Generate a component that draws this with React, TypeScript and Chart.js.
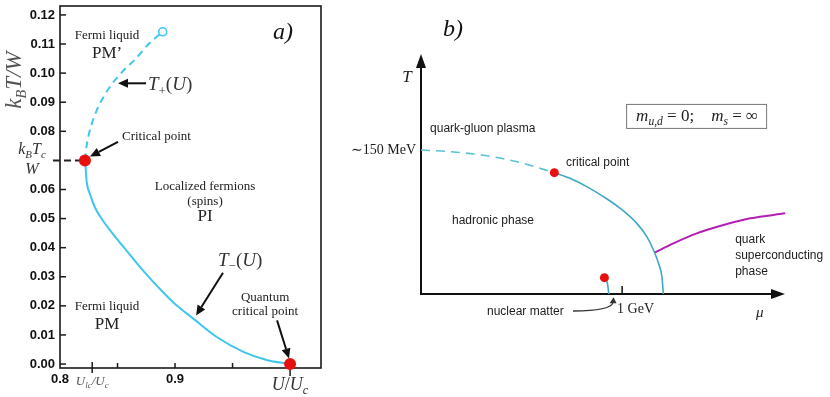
import React, { useEffect, useRef } from 'react';
import { Chart, registerables } from 'chart.js';

Chart.register(...registerables);

// ---------------- Panel a data ----------------
const yTicksA = [0, 0.01, 0.02, 0.03, 0.04, 0.05, 0.06, 0.07, 0.08, 0.09, 0.1, 0.11, 0.12];
const yTickLabelsA = ['0.00', '0.01', '0.02', '0.03', '0.04', '0.05', '0.06', '', '0.08', '0.09', '0.10', '0.11', '0.12'];
const xTicksA = [0.8, 0.85, 0.9, 0.95, 1.0];
const xTickLabelsA = ['0.8', '', '0.9', '', ''];

const tMinusU = [0.8217, 0.8221, 0.8232, 0.8261, 0.8304, 0.8377, 0.8463, 0.858, 0.8724, 0.8898, 0.9015, 0.9159, 0.9363, 0.9594, 0.9797, 1.0];
const tMinusT = [0.07, 0.0685, 0.0627, 0.0584, 0.0538, 0.0491, 0.0446, 0.0389, 0.032, 0.0246, 0.0201, 0.0156, 0.0093, 0.0042, 0.0014, 0.0];

const tPlusU = [0.8217, 0.8226, 0.8246, 0.8276, 0.8319, 0.8377, 0.845, 0.855, 0.8667, 0.8768, 0.8893];
const tPlusT = [0.07, 0.0735, 0.0781, 0.0826, 0.0872, 0.0917, 0.0962, 0.1008, 0.1053, 0.1099, 0.1142];

const criticalA = { x: 0.8217, y: 0.07 };
const quantumCritical = { x: 1.0, y: 0.0 };
const tPlusEnd = { x: 0.8893, y: 0.1142 };
const uLc = 0.828;
const tcGuideU = [0.7939, 0.8217];

// ---------------- Panel b data ----------------
const crossMu = [0, 0.146, 0.312, 0.477, 0.663];
const crossT = [150, 148.2, 144.5, 137.8, 126.4];
const transMu = [0.663, 0.741, 0.824, 0.907, 0.99, 1.073, 1.123, 1.156, 1.181, 1.198, 1.205];
const transT = [126.4, 120.5, 111.8, 101.4, 89.3, 73.6, 59.7, 45.8, 32.0, 18.0, 0];
const scMu = [1.164, 1.255, 1.371, 1.504, 1.637, 1.811];
const scT = [43.4, 52.8, 63.2, 71.9, 78.8, 84.0];
const nucMu = [0.912, 0.927, 0.934];
const nucT = [17, 11.1, 0];
const criticalB = { x: 0.663, y: 126.4 };
const nuclearPoint = { x: 0.912, y: 17 };
const gevTick = 1.0;

const SERIF = '"Liberation Serif", "DejaVu Serif", serif';
const SANS = '"Liberation Sans", Arial, sans-serif';
const CYAN = '#3fc6ee';
const RED = '#e8100e';
const TEAL = '#3ea8c6';
const TEAL_DASH = '#5cc2d2';
const MAGENTA = '#b21fb2';

type Seg = { t: string; sub?: boolean; it?: boolean };

function segFont(size: number, it: boolean, family: string) {
  return `${it ? 'italic ' : ''}normal ${size}px ${family}`;
}

function drawSegs(ctx: CanvasRenderingContext2D, segs: Seg[], x: number, y: number, size: number, family: string, color: string, align: string, defIt: boolean, subScale = 0.68) {
  ctx.save();
  ctx.fillStyle = color;
  ctx.textBaseline = 'alphabetic';
  ctx.textAlign = 'left';
  const subSize = size * subScale;
  const widths = segs.map((s) => {
    ctx.font = segFont(s.sub ? subSize : size, s.it ?? defIt, family);
    return ctx.measureText(s.t).width;
  });
  const total = widths.reduce((a, b) => a + b, 0);
  let cx = align === 'left' ? x : align === 'center' ? x - total / 2 : x - total;
  segs.forEach((s, i) => {
    ctx.font = segFont(s.sub ? subSize : size, s.it ?? defIt, family);
    ctx.fillText(s.t, cx, s.sub ? y + size * 0.22 : y);
    cx += widths[i];
  });
  ctx.restore();
}

function text(ctx: CanvasRenderingContext2D, s: string, x: number, y: number, font: string, color: string, align: CanvasTextAlign) {
  ctx.save();
  ctx.font = font;
  ctx.fillStyle = color;
  ctx.textAlign = align;
  ctx.textBaseline = 'middle';
  ctx.fillText(s, x, y);
  ctx.restore();
}

function arrow(ctx: CanvasRenderingContext2D, x1: number, y1: number, x2: number, y2: number, head: number, hw: number, lw: number) {
  const ang = Math.atan2(y2 - y1, x2 - x1);
  const bx = x2 - head * Math.cos(ang);
  const by = y2 - head * Math.sin(ang);
  ctx.save();
  ctx.strokeStyle = '#111';
  ctx.fillStyle = '#111';
  ctx.lineWidth = lw;
  ctx.beginPath();
  ctx.moveTo(x1, y1);
  ctx.lineTo(bx, by);
  ctx.stroke();
  ctx.beginPath();
  ctx.moveTo(x2, y2);
  ctx.lineTo(bx + hw * Math.sin(ang), by - hw * Math.cos(ang));
  ctx.lineTo(bx - hw * Math.sin(ang), by + hw * Math.cos(ang));
  ctx.closePath();
  ctx.fill();
  ctx.restore();
}

function line(ctx: CanvasRenderingContext2D, x1: number, y1: number, x2: number, y2: number) {
  ctx.beginPath();
  ctx.moveTo(x1, y1);
  ctx.lineTo(x2, y2);
  ctx.stroke();
}

const zip = (xs: number[], ys: number[]) => xs.map((x, i) => ({ x, y: ys[i] }));

const panelAPlugin = {
  id: 'panelA',
  beforeDatasetsDraw(chart: any) {
    const { ctx, chartArea: ca, scales } = chart;
    const x = scales.x;
    const y = scales.y;
    ctx.save();
    ctx.strokeStyle = '#1a1a1a';
    ctx.lineWidth = 1.6;
    ctx.strokeRect(ca.left, ca.top, ca.right - ca.left, ca.bottom - ca.top);
    ctx.lineWidth = 1.5;
    yTicksA.forEach((v, i) => {
      if (yTickLabelsA[i] === '') return;
      const py = y.getPixelForValue(v);
      line(ctx, ca.left, py, ca.left + 6, py);
    });
    xTicksA.forEach((v, i) => {
      if (i === 0) return;
      const px = x.getPixelForValue(v);
      if (v === 1.0) line(ctx, px, ca.bottom - 5, px, ca.bottom + 8);
      else line(ctx, px, ca.bottom, px, ca.bottom - 5);
    });
    const pl = x.getPixelForValue(uLc);
    line(ctx, pl, ca.bottom - 6, pl, ca.bottom + 5);
    ctx.restore();
  },
  afterDatasetsDraw(chart: any) {
    const { ctx, chartArea: ca, scales } = chart;
    const X = (u: number) => scales.x.getPixelForValue(u);
    const Y = (t: number) => scales.y.getPixelForValue(t);
    const dark = '#222';
    const f13 = `13px ${SERIF}`;
    const f17 = `17px ${SERIF}`;
    text(ctx, 'Fermi liquid', X(0.8409), Y(0.1128), f13, dark, 'center');
    text(ctx, 'PM\u2019', X(0.8409), Y(0.1066), f17, dark, 'center');
    text(ctx, 'Critical point', X(0.8539), Y(0.0781), f13, dark, 'left');
    text(ctx, 'Localized fermions', X(0.9261), Y(0.061), f13, dark, 'center');
    text(ctx, '(spins)', X(0.9261), Y(0.0559), f13, dark, 'center');
    text(ctx, 'PI', X(0.9261), Y(0.0507), f17, dark, 'center');
    text(ctx, 'Quantum', X(0.9783), Y(0.0228), f13, dark, 'center');
    text(ctx, 'critical point', X(0.9783), Y(0.0181), f13, dark, 'center');
    text(ctx, 'Fermi liquid', X(0.8409), Y(0.0198), f13, dark, 'center');
    text(ctx, 'PM', X(0.8409), Y(0.0135), f17, dark, 'center');
    text(ctx, 'a)', X(0.9939), Y(0.1139), `italic 24px ${SERIF}`, '#111', 'center');

    drawSegs(ctx, [{ t: 'T' }, { t: '+', sub: true, it: false }, { t: '(', it: false }, { t: 'U' }, { t: ')', it: false }], X(0.8765), Y(0.0961) + 6, 19, SERIF, '#333', 'left', true);
    drawSegs(ctx, [{ t: 'T' }, { t: '\u2212', sub: true, it: false }, { t: '(', it: false }, { t: 'U' }, { t: ')', it: false }], X(0.9374), Y(0.0358) + 6, 19, SERIF, '#333', 'left', true);

    arrow(ctx, X(0.8748), Y(0.0965), X(0.8504), Y(0.0965), 10, 4.5, 2);
    arrow(ctx, X(0.8504), Y(0.0764), X(0.8261), Y(0.0713), 10, 4.5, 2);
    arrow(ctx, X(0.9417), Y(0.0314), X(0.9183), Y(0.0167), 10, 4.5, 2);
    arrow(ctx, X(0.9887), Y(0.015), X(0.9991), Y(0.0019), 10, 4.5, 2);

    // axis titles
    ctx.save();
    ctx.translate(13, Y(0.0976));
    ctx.rotate(-Math.PI / 2);
    drawSegs(ctx, [{ t: 'k' }, { t: 'B', sub: true }, { t: 'T/W' }], 0, 8, 23, SERIF, '#555', 'center', true, 0.62);
    ctx.restore();

    // k_B T_c / W fraction next to 0.07
    const yc = Y(0.07);
    drawSegs(ctx, [{ t: 'k' }, { t: 'B', sub: true }, { t: 'T' }, { t: 'c', sub: true }], 32, yc - 6, 16, SERIF, '#333', 'center', true);
    drawSegs(ctx, [{ t: 'W' }], 32, yc + 14, 16, SERIF, '#333', 'center', true);

    drawSegs(ctx, [{ t: 'U' }, { t: 'lc', sub: true }, { t: '/U' }, { t: 'c', sub: true }], X(uLc), ca.bottom + 17, 13, SERIF, '#555', 'center', true);
    drawSegs(ctx, [{ t: 'U' }, { t: '/', it: false }, { t: 'U' }, { t: 'c', sub: true }], X(1.0), ca.bottom + 22, 18, SERIF, '#333', 'center', true);
  },
};

const panelBPlugin = {
  id: 'panelB',
  beforeDatasetsDraw(chart: any) {
    const { ctx, chartArea: ca, scales } = chart;
    const X = (m: number) => scales.x.getPixelForValue(m);
    ctx.save();
    ctx.strokeStyle = '#111';
    ctx.fillStyle = '#111';
    ctx.lineWidth = 2;
    line(ctx, ca.left, ca.bottom + 1, ca.left, ca.top + 10);
    line(ctx, ca.left - 1, ca.bottom, ca.right - 10, ca.bottom);
    ctx.beginPath();
    ctx.moveTo(ca.left, ca.top);
    ctx.lineTo(ca.left - 5, ca.top + 14);
    ctx.lineTo(ca.left + 5, ca.top + 14);
    ctx.closePath();
    ctx.fill();
    ctx.beginPath();
    ctx.moveTo(ca.right, ca.bottom);
    ctx.lineTo(ca.right - 14, ca.bottom - 5);
    ctx.lineTo(ca.right - 14, ca.bottom + 5);
    ctx.closePath();
    ctx.fill();
    ctx.lineWidth = 1.5;
    line(ctx, X(gevTick), ca.bottom, X(gevTick), ca.bottom - 8);
    ctx.restore();
  },
  afterDatasetsDraw(chart: any) {
    const { ctx, chartArea: ca, scales } = chart;
    const X = (m: number) => scales.x.getPixelForValue(m);
    const Y = (t: number) => scales.y.getPixelForValue(t);
    const c = '#1c1c1c';
    const f12 = `12px ${SANS}`;
    text(ctx, 'quark-gluon plasma', X(0.045), Y(172), f12, c, 'left');
    text(ctx, 'critical point', X(0.721), Y(136.5), f12, c, 'left');
    text(ctx, 'hadronic phase', X(0.154), Y(76), f12, c, 'left');
    text(ctx, 'quark', X(1.562), Y(56.3), f12, c, 'left');
    text(ctx, 'superconducting', X(1.562), Y(39.6), f12, c, 'left');
    text(ctx, 'phase', X(1.562), Y(22.9), f12, c, 'left');
    text(ctx, 'nuclear matter', X(0.328), Y(-18.8), f12, c, 'left');
    text(ctx, '1 GeV', X(1.0) - 5, Y(-16), `14px ${SERIF}`, c, 'left');
    text(ctx, '\u223C150 MeV', ca.left - 5, Y(150), `14px ${SERIF}`, c, 'right');
    text(ctx, 'T', ca.left - 14, Y(225), `italic 17px ${SERIF}`, c, 'center');
    text(ctx, '\u03BC', X(1.684), Y(-19.5), `italic 15px ${SERIF}`, c, 'center');
    text(ctx, 'b)', X(0.159), Y(275), `italic 24px ${SERIF}`, '#111', 'center');

    // nuclear matter arrow
    ctx.save();
    ctx.strokeStyle = '#333';
    ctx.fillStyle = '#333';
    ctx.lineWidth = 1.3;
    const sx = X(0.756), sy = Y(-17.7);
    const tx = X(0.955), ty = Y(-3.5);
    ctx.beginPath();
    ctx.moveTo(sx, sy);
    ctx.quadraticCurveTo(tx - 2, sy, tx, ty + 5);
    ctx.stroke();
    ctx.beginPath();
    ctx.moveTo(tx + 0.5, ty);
    ctx.lineTo(tx - 3.5, ty + 6);
    ctx.lineTo(tx + 3.5, ty + 6);
    ctx.closePath();
    ctx.fill();
    ctx.restore();

    // formula box
    const bx = X(1.0199), by = Y(198), bw = 140, bh = 24;
    ctx.save();
    ctx.strokeStyle = '#777';
    ctx.lineWidth = 1;
    ctx.strokeRect(bx + 0.5, by + 0.5, bw, bh);
    ctx.restore();
    drawSegs(ctx, [
      { t: 'm' }, { t: 'u,d', sub: true }, { t: ' = 0;', it: false }, { t: '\u2003', it: false },
      { t: 'm' }, { t: 's', sub: true }, { t: ' = \u221E', it: false },
    ], bx + bw / 2 + 1, by + 17, 17, SERIF, '#222', 'center', true);
  },
};

export default function App() {
  const refA = useRef<HTMLCanvasElement>(null);
  const refB = useRef<HTMLCanvasElement>(null);

  useEffect(() => {
    const line0 = { showLine: true, pointRadius: 0, clip: false, cubicInterpolationMode: 'monotone' };
    const cfgA: any = {
      type: 'scatter',
      data: {
        datasets: [
          { data: [quantumCritical, criticalA], pointRadius: 6, pointBackgroundColor: RED, pointBorderColor: RED, pointBorderWidth: 0, clip: false },
          { data: [tPlusEnd], pointRadius: 4, pointBackgroundColor: '#fff', pointBorderColor: CYAN, pointBorderWidth: 1.6, clip: false },
          { ...line0, data: zip(tMinusU, tMinusT), borderColor: CYAN, borderWidth: 2 },
          { ...line0, data: zip(tPlusU, tPlusT), borderColor: CYAN, borderWidth: 2, borderDash: [7, 5] },
          { ...line0, data: tcGuideU.map((u) => ({ x: u, y: criticalA.y })), borderColor: '#222', borderWidth: 2, borderDash: [7, 4], cubicInterpolationMode: 'default', tension: 0 },
        ],
      },
      options: {
        animation: false,
        responsive: false,
        events: [],
        layout: { padding: { left: 0, right: 9, top: 3, bottom: 0 } },
        plugins: { legend: { display: false }, tooltip: { enabled: false } },
        scales: {
          x: {
            type: 'linear', min: 0.8, max: 1.0269,
            grid: { display: false, drawTicks: false }, border: { display: false },
            afterBuildTicks: (s: any) => { s.ticks = xTicksA.map((v) => ({ value: v })); },
            afterFit: (s: any) => { s.height = 29; s.paddingLeft = 0; s.paddingRight = 0; },
            ticks: { autoSkip: false, maxRotation: 0, padding: 4, color: '#111', font: { family: SANS, size: 13, weight: 'bold' }, callback: (_v: any, i: number) => xTickLabelsA[i] },
          },
          y: {
            type: 'linear', min: -0.00136, max: 0.12307,
            grid: { display: false, drawTicks: false }, border: { display: false },
            afterBuildTicks: (s: any) => { s.ticks = yTicksA.map((v) => ({ value: v })); },
            afterFit: (s: any) => { s.width = 60; s.paddingTop = 0; s.paddingBottom = 0; },
            ticks: { autoSkip: false, padding: 5, color: '#111', font: { family: SANS, size: 13, weight: 'bold' }, callback: (_v: any, i: number) => yTickLabelsA[i] },
          },
        },
      },
      plugins: [panelAPlugin],
    };

    const cfgB: any = {
      type: 'scatter',
      data: {
        datasets: [
          { data: [criticalB, nuclearPoint], pointRadius: 4.5, pointBackgroundColor: RED, pointBorderColor: RED, pointBorderWidth: 0, clip: false },
          { ...line0, data: zip(nucMu, nucT), borderColor: TEAL, borderWidth: 1.6 },
          { ...line0, data: zip(scMu, scT), borderColor: MAGENTA, borderWidth: 2 },
          { ...line0, data: zip(transMu, transT), borderColor: TEAL, borderWidth: 1.6 },
          { ...line0, data: zip(crossMu, crossT), borderColor: TEAL_DASH, borderWidth: 1.6, borderDash: [9, 6] },
        ],
      },
      options: {
        animation: false,
        responsive: false,
        events: [],
        layout: { padding: { left: 91, right: 45, top: 54, bottom: 103 } },
        plugins: { legend: { display: false }, tooltip: { enabled: false } },
        scales: {
          x: { type: 'linear', display: false, min: 0, max: 1.81 },
          y: { type: 'linear', display: false, min: 0, max: 250 },
        },
      },
      plugins: [panelBPlugin],
    };

    const a = new Chart(refA.current as HTMLCanvasElement, cfgA);
    const b = new Chart(refB.current as HTMLCanvasElement, cfgB);
    return () => { a.destroy(); b.destroy(); };
  }, []);

  return (
    <div style={{ position: 'fixed', left: 0, top: 0, width: 830, height: 397, background: '#fff' }}>
      <canvas ref={refA} width={330} height={397} style={{ position: 'absolute', left: 0, top: 0, width: 330, height: 397 }} />
      <canvas ref={refB} width={500} height={397} style={{ position: 'absolute', left: 330, top: 0, width: 500, height: 397 }} />
    </div>
  );
}
